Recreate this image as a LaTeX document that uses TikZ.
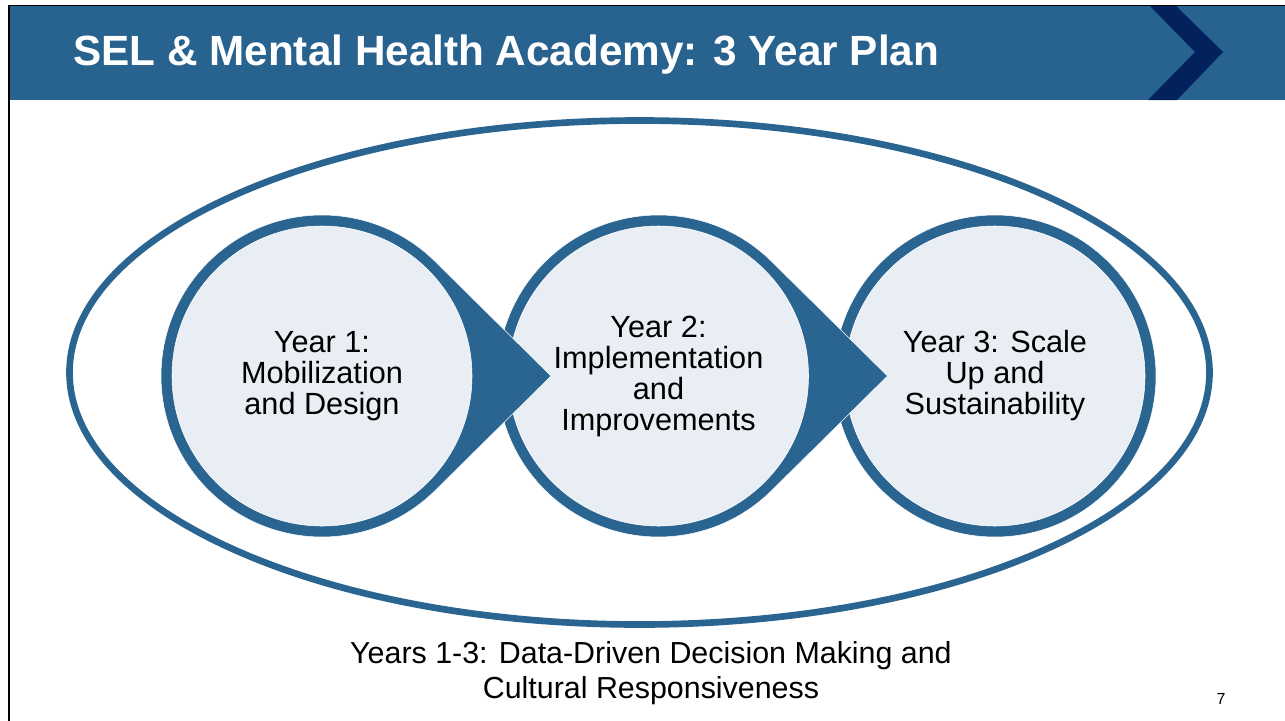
\documentclass[tikz,border=0pt]{standalone}
\usepackage{fontspec}
\setmainfont{Liberation Sans}
\usepackage{tikz}
\usetikzlibrary{calc,positioning}
\definecolor{bandblue}{HTML}{28628E}
\definecolor{chevnavy}{HTML}{03215C}
\definecolor{ringblue}{HTML}{2A6491}
\definecolor{discfill}{HTML}{E9EEF4}

% ring behind a year disc, with or without the pointer to the next one
\newcommand{\discring}[1]{%
  \fill[ringblue, draw=white, line width=0.4pt] (#1) circle[radius=161];}
\newcommand{\discarrow}[1]{%
  \fill[ringblue, draw=white, line width=0.4pt]
    ($(#1)+(45.3:161)$) arc[start angle=45.3, end angle=314.7, radius=161]
    -- ($(#1)+(229,0)$) -- cycle;}

\tikzset{
  yeardisc/.style={circle, fill=discfill, draw=white, line width=0.4pt,
    minimum size=225pt, inner sep=0pt, align=center, text=black,
    font=\fontsize{23}{23.25}\selectfont},
  slidetitle/.style={anchor=base west, inner sep=0pt, text=white,
    font=\bfseries\fontsize{31.7}{36}\selectfont},
  footnote/.style={align=center, inner sep=0pt,
    font=\fontsize{22.8}{26.25}\selectfont}
}

\begin{document}
\begin{tikzpicture}[x=0.75pt, y=0.75pt]
  \useasboundingbox (0,0) rectangle (1285,-721);
  \fill[white] (0,0) rectangle (1285,-721);

  % header band and chevron
  \fill[bandblue] (9,-6) rectangle (1285,-100);
  \fill[chevnavy] (1150,-6) -- (1176,-6) -- (1223,-52) -- (1177,-100)
    -- (1148,-100) -- (1195,-52) -- cycle;
  \draw[black, line width=1.2pt] (9,-721) |- (1285,-5.5);
  \node[slidetitle] (title) at (73,-65) {SEL \& Mental Health Academy: 3 Year Plan};

  % outer ellipse
  \draw[ringblue, line width=5pt] (639.5,-372.5) ellipse[x radius=570, y radius=252];

  \coordinate (c1) at (322,-376);
  \coordinate (c2) at (658.5,-376);
  \coordinate (c3) at (995,-376);

  % discs, last one first so each pointer lies over the next disc
  \discring{c3}
  \node[yeardisc] (year3) at (c3) {Year 3: Scale\\Up and\\Sustainability};
  \discarrow{c2}
  \node[yeardisc] (year2) at (c2) {Year 2:\\Implementation\\and\\Improvements};
  \discarrow{c1}
  \node[yeardisc] (year1) at (c1) {Year 1:\\Mobilization\\and Design};

  \node[footnote, anchor=north] (allyears) at (651,-641)
    {Years 1-3: Data-Driven Decision Making and\\Cultural Responsiveness};
  \node[font=\fontsize{12}{14}\selectfont, anchor=base] (pagenum) at (1221,-704) {7};
\end{tikzpicture}
\end{document}
